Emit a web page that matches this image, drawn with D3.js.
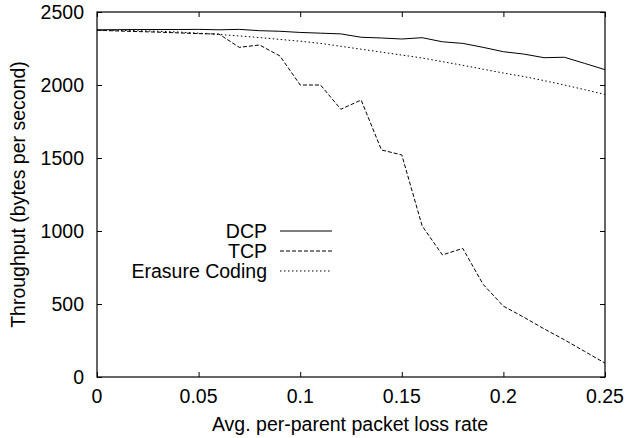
<!DOCTYPE html>
<html lang="en">
<head>
<meta charset="UTF-8">
<title>Throughput vs loss rate</title>
<script src="https://d3js.org/d3.v7.min.js"></script>
<style>
  body { margin: 0; background: #fff; }
  svg text { font-family: "Liberation Sans", Arial, sans-serif; font-size: 19.5px; fill: #000; }
</style>
</head>
<body>
<svg id="chart" width="626" height="438"></svg>
<script>
const lossRates = d3.range(0, 26).map(i => i / 100);
const dcp = [2378, 2379, 2380, 2380, 2380, 2381, 2378, 2381, 2372, 2368, 2360, 2355, 2350,
             2327, 2322, 2315, 2324, 2296, 2285, 2258, 2228, 2212, 2187, 2190, 2148, 2105];
const tcp = [2375, 2370, 2366, 2362, 2357, 2352, 2349, 2258, 2274, 2199, 2000, 2000, 1834,
             1897, 1555, 1521, 1035, 836, 881, 635, 485, 410, 330, 255, 175, 95];
const erasure = [2375, 2374, 2372, 2368, 2363, 2355, 2346, 2336, 2325, 2312, 2300, 2285, 2265,
                 2245, 2225, 2205, 2185, 2160, 2135, 2108, 2082, 2058, 2030, 2000, 1968, 1935];
const xTicks = [0, 0.05, 0.1, 0.15, 0.2, 0.25];
const yTicks = [0, 500, 1000, 1500, 2000, 2500];

const series = [
  { name: "DCP", values: dcp, dash: null },
  { name: "TCP", values: tcp, dash: "4,2" },
  { name: "Erasure Coding", values: erasure, dash: "1.5,2.5" }
];

const svg = d3.select("#chart");
const plot = { left: 97, right: 605, top: 12, bottom: 377 };

const x = d3.scaleLinear().domain([0, 0.25]).range([plot.left, plot.right]);
const y = d3.scaleLinear().domain([0, 2500]).range([plot.bottom, plot.top]);

// inward ticks on all four sides
svg.append("g").attr("transform", `translate(0,${plot.bottom})`)
  .call(d3.axisTop(x).tickValues(xTicks).tickSize(5).tickFormat(""));
svg.append("g").attr("transform", `translate(0,${plot.top})`)
  .call(d3.axisBottom(x).tickValues(xTicks).tickSize(5).tickFormat(""));
svg.append("g").attr("transform", `translate(${plot.left},0)`)
  .call(d3.axisRight(y).tickValues(yTicks).tickSize(5).tickFormat(""));
svg.append("g").attr("transform", `translate(${plot.right},0)`)
  .call(d3.axisLeft(y).tickValues(yTicks).tickSize(5).tickFormat(""));
svg.selectAll(".domain").remove();
svg.selectAll(".tick line").attr("stroke", "#000");

svg.append("rect")
  .attr("x", plot.left).attr("y", plot.top)
  .attr("width", plot.right - plot.left).attr("height", plot.bottom - plot.top)
  .attr("fill", "none").attr("stroke", "#000").attr("stroke-width", 1.2);

// tick labels
svg.append("g").selectAll("text").data(xTicks).join("text")
  .attr("x", d => x(d))
  .attr("y", 403)
  .attr("text-anchor", "middle")
  .text(d => d);
svg.append("g").selectAll("text").data(yTicks).join("text")
  .attr("x", 84)
  .attr("y", d => y(d) + 7)
  .attr("text-anchor", "end")
  .text(d => d);

svg.append("text")
  .attr("x", 350).attr("y", 431)
  .attr("text-anchor", "middle")
  .text("Avg. per-parent packet loss rate");
svg.append("text")
  .attr("transform", `translate(25,${(plot.top + plot.bottom) / 2}) rotate(-90)`)
  .attr("text-anchor", "middle")
  .text("Throughput (bytes per second)");

const line = d3.line()
  .x((d, i) => x(lossRates[i]))
  .y(d => y(d));

svg.append("g").selectAll("path").data(series).join("path")
  .attr("d", s => line(s.values))
  .attr("fill", "none")
  .attr("stroke", "#000")
  .attr("stroke-width", 1)
  .attr("stroke-dasharray", s => s.dash);

// legend
const legend = svg.append("g").selectAll("g").data(series).join("g")
  .attr("transform", (d, i) => `translate(0,${231 + i * 20})`);
legend.append("text")
  .attr("x", 267).attr("y", 7)
  .attr("text-anchor", "end")
  .text(d => d.name);
legend.append("line")
  .attr("x1", 280).attr("x2", 332)
  .attr("stroke", "#000")
  .attr("stroke-width", 1)
  .attr("stroke-dasharray", d => d.dash);
</script>
</body>
</html>
